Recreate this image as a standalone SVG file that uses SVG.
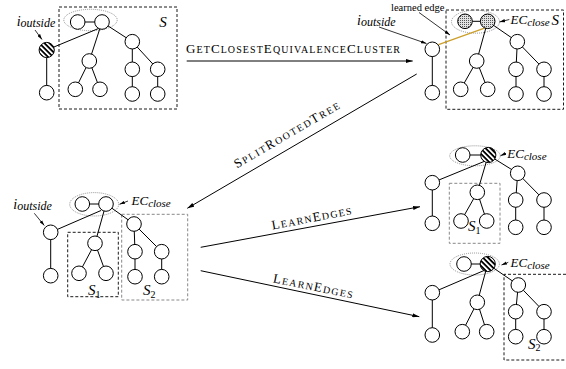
<svg xmlns="http://www.w3.org/2000/svg" width="566" height="369" viewBox="0 0 566 369">
<style>
.e{stroke:#000;stroke-width:1;fill:none}
.n{fill:#fff;stroke:#000;stroke-width:1}
.h{fill:url(#hatch);stroke:#000;stroke-width:1}
.g{fill:url(#dots);stroke:#000;stroke-width:1}
.ell{fill:none;stroke:#777;stroke-width:0.8;stroke-dasharray:1 1}
.box{fill:none;stroke:#000;stroke-width:0.9;stroke-dasharray:3 2}
.gbox{fill:none;stroke:#888;stroke-width:1;stroke-dasharray:3 2}
.it{font-family:"Liberation Serif",serif;font-style:italic;fill:#000}
.rm{font-family:"Liberation Serif",serif;fill:#000}
.sc{font-family:"Liberation Serif",serif;fill:#000}
.big{font-size:13px}
.sm{font-size:10px}
.arr{stroke:#000;stroke-width:1;fill:none;marker-end:url(#ah)}
.la{stroke:#000;stroke-width:0.8;fill:none;marker-end:url(#sah)}
</style>
<defs>
<pattern id="hatch" width="3.6" height="3.6" patternUnits="userSpaceOnUse" patternTransform="rotate(-45)"><rect width="3.6" height="3.6" fill="#fff"/><rect width="1.8" height="3.6" fill="#000"/></pattern>
<pattern id="dots" width="2" height="2" patternUnits="userSpaceOnUse"><rect width="2" height="2" fill="#e2e2e2"/><rect width="1" height="1" fill="#555"/></pattern>
<marker id="ah" viewBox="0 0 10 6" refX="10" refY="3" markerWidth="7" markerHeight="4.2" markerUnits="userSpaceOnUse" orient="auto"><path d="M0,0 L10,3 L0,6 z" fill="#000"/></marker>
<marker id="sah" viewBox="0 0 10 6" refX="10" refY="3" markerWidth="5.5" markerHeight="3.6" markerUnits="userSpaceOnUse" orient="auto"><path d="M0,0 L10,3 L0,6 z" fill="#000"/></marker>
</defs>
<rect width="566" height="369" fill="#fff"/>

<!-- Panel 1: top-left -->
<g id="tree-initial">
<rect class="box" x="59" y="7" width="118" height="102"/>
<ellipse class="ell" cx="90.5" cy="20" rx="26.7" ry="10.7"/>
<g class="e">
<line x1="77.7" y1="22" x2="102" y2="22"/>
<line x1="102" y1="22" x2="132.3" y2="41.7"/>
<line x1="102" y1="22" x2="89.3" y2="61"/>
<line x1="46.7" y1="50" x2="98.5" y2="28.5"/>
<line x1="89.3" y1="61" x2="75.3" y2="89.3"/>
<line x1="89.3" y1="61" x2="100" y2="89.3"/>
<line x1="132.3" y1="41.7" x2="132.3" y2="69.3"/>
<line x1="132.3" y1="41.7" x2="157.7" y2="69.3"/>
<line x1="132.3" y1="69.3" x2="132.3" y2="94"/>
<line x1="157.7" y1="69.3" x2="157.7" y2="94"/>
<line x1="46.7" y1="50" x2="46.7" y2="92.7"/>
</g>
<circle class="n" cx="77.7" cy="22" r="7.3"/>
<circle class="n" cx="102" cy="22" r="7.3"/>
<circle class="h" cx="46.7" cy="50" r="7.6"/>
<circle class="n" cx="46.7" cy="92.7" r="7.3"/>
<circle class="n" cx="89.3" cy="61" r="7.3"/>
<circle class="n" cx="75.3" cy="89.3" r="7.3"/>
<circle class="n" cx="100" cy="89.3" r="7.3"/>
<circle class="n" cx="132.3" cy="41.7" r="7.3"/>
<circle class="n" cx="132.3" cy="69.3" r="7.3"/>
<circle class="n" cx="157.7" cy="69.3" r="7.3"/>
<circle class="n" cx="132.3" cy="94" r="7.3"/>
<circle class="n" cx="157.7" cy="94" r="7.3"/>
<text class="it" x="16.7" y="25.5"><tspan font-size="14">i</tspan><tspan font-size="12" dy="1.5">outside</tspan></text>
<line class="la" x1="35" y1="30" x2="42" y2="39.5"/>
<text class="it" x="159.3" y="26.5" font-size="15">S</text>
</g>

<!-- Panel 2: top-right -->
<g id="tree-learned">
<rect class="box" x="446" y="10" width="117.5" height="99.3"/>
<ellipse class="ell" cx="475.5" cy="21.7" rx="24" ry="11.5"/>
<g class="e">
<line x1="465" y1="21.3" x2="487.7" y2="21.3"/>
<line x1="487.7" y1="21.3" x2="517.3" y2="41.7"/>
<line x1="487.7" y1="21.3" x2="476.7" y2="61"/>
<line x1="476.7" y1="61" x2="460.7" y2="89.3"/>
<line x1="476.7" y1="61" x2="487.7" y2="89.3"/>
<line x1="517.3" y1="41.7" x2="516" y2="69.3"/>
<line x1="517.3" y1="41.7" x2="544" y2="69.3"/>
<line x1="516" y1="69.3" x2="516" y2="94"/>
<line x1="544" y1="69.3" x2="544" y2="94"/>
<line x1="432.3" y1="49.3" x2="432.3" y2="92.7"/>
</g>
<line x1="438.5" y1="44.6" x2="484.5" y2="28.2" stroke="#cc9f2a" stroke-width="1.3"/>
<circle class="g" cx="465" cy="21.3" r="7.3"/>
<circle class="g" cx="487.7" cy="21.3" r="7.3"/>
<circle class="n" cx="432.3" cy="49.3" r="7.3"/>
<circle class="n" cx="432.3" cy="92.7" r="7.3"/>
<circle class="n" cx="476.7" cy="61" r="7.3"/>
<circle class="n" cx="460.7" cy="89.3" r="7.3"/>
<circle class="n" cx="487.7" cy="89.3" r="7.3"/>
<circle class="n" cx="517.3" cy="41.7" r="7.3"/>
<circle class="n" cx="516" cy="69.3" r="7.3"/>
<circle class="n" cx="544" cy="69.3" r="7.3"/>
<circle class="n" cx="516" cy="94" r="7.3"/>
<circle class="n" cx="544" cy="94" r="7.3"/>
<text class="it" x="357" y="24.5"><tspan font-size="14">i</tspan><tspan font-size="12" dy="1.5">outside</tspan></text>
<line class="la" x1="379" y1="27" x2="426.5" y2="43.5"/>
<text class="rm" x="391" y="10.5" font-size="10.5">learned edge</text>
<line class="la" x1="419" y1="12.5" x2="450" y2="35"/>
<text class="it" x="510.5" y="24.3"><tspan font-size="13">EC</tspan><tspan font-size="11" dy="1.8">close</tspan></text>
<line class="la" x1="509.3" y1="19.5" x2="499.5" y2="22"/>
<text class="it" x="551.5" y="24.5" font-size="15">S</text>
</g>

<!-- Panel 3: middle-left -->
<g id="tree-split">
<rect class="box" x="67.7" y="232.3" width="50.6" height="64.4"/>
<rect class="gbox" x="121.7" y="214.3" width="66" height="85.7"/>
<ellipse class="ell" cx="94.2" cy="204.3" rx="24.5" ry="11.7"/>
<g class="e">
<line x1="82.3" y1="204" x2="106" y2="204"/>
<line x1="106" y1="204" x2="134" y2="224"/>
<line x1="106" y1="204" x2="95" y2="243.3"/>
<line x1="50.7" y1="232.3" x2="101" y2="210.5"/>
<line x1="95" y1="243.3" x2="79" y2="273.3"/>
<line x1="95" y1="243.3" x2="106" y2="273.3"/>
<line x1="134" y1="224" x2="135" y2="251.7"/>
<line x1="134" y1="224" x2="161.7" y2="251.7"/>
<line x1="135" y1="251.7" x2="135" y2="276.7"/>
<line x1="161.7" y1="251.7" x2="161.7" y2="276.7"/>
<line x1="50.7" y1="232.3" x2="50.7" y2="275.7"/>
</g>
<circle class="n" cx="82.3" cy="204" r="7.3"/>
<circle class="n" cx="106" cy="204" r="7.3"/>
<circle class="n" cx="50.7" cy="232.3" r="7.3"/>
<circle class="n" cx="50.7" cy="275.7" r="7.3"/>
<circle class="n" cx="95" cy="243.3" r="7.3"/>
<circle class="n" cx="79" cy="273.3" r="7.3"/>
<circle class="n" cx="106" cy="273.3" r="7.3"/>
<circle class="n" cx="134" cy="224" r="7.3"/>
<circle class="n" cx="135" cy="251.7" r="7.3"/>
<circle class="n" cx="161.7" cy="251.7" r="7.3"/>
<circle class="n" cx="135" cy="276.7" r="7.3"/>
<circle class="n" cx="161.7" cy="276.7" r="7.3"/>
<text class="it" x="13.3" y="208.5"><tspan font-size="14">i</tspan><tspan font-size="12" dy="1.5">outside</tspan></text>
<line class="la" x1="34.3" y1="213.3" x2="44.3" y2="225.5"/>
<text class="it" x="131.5" y="205.3"><tspan font-size="13">EC</tspan><tspan font-size="11" dy="1.8">close</tspan></text>
<line class="la" x1="128" y1="201" x2="119.5" y2="204.3"/>
<text class="it" x="88" y="295" font-size="15">S<tspan class="rm" font-style="normal" font-size="10" dy="2.5">1</tspan></text>
<text class="it" x="143" y="295.3" font-size="15">S<tspan class="rm" font-style="normal" font-size="10" dy="2.5">2</tspan></text>
</g>

<!-- Panel 4: right-middle -->
<g id="tree-learn-s1">
<rect class="gbox" x="449.3" y="183.3" width="50.7" height="60"/>
<ellipse class="ell" cx="475" cy="155.8" rx="25.3" ry="10"/>
<g class="e">
<line x1="462.7" y1="155" x2="488.3" y2="155"/>
<line x1="488.3" y1="155" x2="517.7" y2="173.3"/>
<line x1="488.3" y1="155" x2="477.3" y2="192.3"/>
<line x1="432.3" y1="182.7" x2="484" y2="161.5"/>
<line x1="477.3" y1="192.3" x2="461" y2="221"/>
<line x1="477.3" y1="192.3" x2="486.7" y2="221"/>
<line x1="517.7" y1="173.3" x2="515.7" y2="200"/>
<line x1="517.7" y1="173.3" x2="544" y2="200"/>
<line x1="515.7" y1="200" x2="515.7" y2="227.3"/>
<line x1="544" y1="200" x2="544" y2="227.3"/>
<line x1="432.3" y1="182.7" x2="432.3" y2="223.3"/>
</g>
<circle class="n" cx="462.7" cy="155" r="7.3"/>
<circle class="h" cx="488.3" cy="155" r="7.6"/>
<circle class="n" cx="432.3" cy="182.7" r="7.3"/>
<circle class="n" cx="432.3" cy="223.3" r="7.3"/>
<circle class="n" cx="477.3" cy="192.3" r="7.3"/>
<circle class="n" cx="461" cy="221" r="7.3"/>
<circle class="n" cx="486.7" cy="221" r="7.3"/>
<circle class="n" cx="517.7" cy="173.3" r="7.3"/>
<circle class="n" cx="515.7" cy="200" r="7.3"/>
<circle class="n" cx="544" cy="200" r="7.3"/>
<circle class="n" cx="515.7" cy="227.3" r="7.3"/>
<circle class="n" cx="544" cy="227.3" r="7.3"/>
<text class="it" x="507.3" y="158.3"><tspan font-size="13">EC</tspan><tspan font-size="11" dy="1.8">close</tspan></text>
<line class="la" x1="506" y1="153.3" x2="500.5" y2="155.7"/>
<text class="it" x="468" y="231" font-size="15">S<tspan class="rm" font-style="normal" font-size="10" dy="2.5">1</tspan></text>
</g>

<!-- Panel 5: right-bottom -->
<g id="tree-learn-s2">
<path class="box" d="M566,274.3 H504 V360 H566"/>
<ellipse class="ell" cx="474.7" cy="264" rx="24.7" ry="11"/>
<g class="e">
<line x1="464" y1="264" x2="487.7" y2="264"/>
<line x1="487.7" y1="264" x2="518.3" y2="285"/>
<line x1="487.7" y1="264" x2="477.3" y2="302.3"/>
<line x1="432.3" y1="292.7" x2="484" y2="270.5"/>
<line x1="477.3" y1="302.3" x2="462.3" y2="331.7"/>
<line x1="477.3" y1="302.3" x2="486.7" y2="331.7"/>
<line x1="518.3" y1="285" x2="515.7" y2="311.7"/>
<line x1="518.3" y1="285" x2="544" y2="311.7"/>
<line x1="515.7" y1="311.7" x2="515.7" y2="336.7"/>
<line x1="544" y1="311.7" x2="544" y2="336.7"/>
<line x1="432.3" y1="292.7" x2="432.3" y2="335"/>
</g>
<circle class="n" cx="464" cy="264" r="7.3"/>
<circle class="h" cx="487.7" cy="264" r="7.6"/>
<circle class="n" cx="432.3" cy="292.7" r="7.3"/>
<circle class="n" cx="432.3" cy="335" r="7.3"/>
<circle class="n" cx="477.3" cy="302.3" r="7.3"/>
<circle class="n" cx="462.3" cy="331.7" r="7.3"/>
<circle class="n" cx="486.7" cy="331.7" r="7.3"/>
<circle class="n" cx="518.3" cy="285" r="7.3"/>
<circle class="n" cx="515.7" cy="311.7" r="7.3"/>
<circle class="n" cx="544" cy="311.7" r="7.3"/>
<circle class="n" cx="515.7" cy="336.7" r="7.3"/>
<circle class="n" cx="544" cy="336.7" r="7.3"/>
<text class="it" x="510.5" y="266.7"><tspan font-size="13">EC</tspan><tspan font-size="11" dy="1.8">close</tspan></text>
<line class="la" x1="508.3" y1="262.3" x2="501.5" y2="265"/>
<text class="it" x="528" y="348.5" font-size="15">S<tspan class="rm" font-style="normal" font-size="10" dy="2.5">2</tspan></text>
</g>

<!-- Connectors -->
<g id="connectors">
<line class="arr" x1="186.7" y1="61" x2="412.7" y2="61"/>
<text class="sc" x="186" y="52.7" textLength="214" lengthAdjust="spacing"><tspan class="big">G</tspan><tspan class="sm">ET</tspan><tspan class="big">C</tspan><tspan class="sm">LOSEST</tspan><tspan class="big">E</tspan><tspan class="sm">QUIVALENCE</tspan><tspan class="big">C</tspan><tspan class="sm">LUSTER</tspan></text>
<line class="arr" x1="416.7" y1="74" x2="187.3" y2="208.3"/>
<text class="sc" transform="translate(237,168.5) rotate(-30.3)" textLength="120" lengthAdjust="spacing"><tspan class="big">S</tspan><tspan class="sm">PLIT</tspan><tspan class="big">R</tspan><tspan class="sm">OOTED</tspan><tspan class="big">T</tspan><tspan class="sm">REE</tspan></text>
<line class="arr" x1="200.7" y1="247.3" x2="420" y2="206.7"/>
<text class="sc" transform="translate(272.5,229.5) rotate(-10.8)" textLength="81" lengthAdjust="spacing"><tspan class="big">L</tspan><tspan class="sm">EARN</tspan><tspan class="big">E</tspan><tspan class="sm">DGES</tspan></text>
<line class="arr" x1="200.7" y1="270.7" x2="419.3" y2="316.7"/>
<text class="sc" transform="translate(272.5,282.3) rotate(11.5)" textLength="81" lengthAdjust="spacing"><tspan class="big">L</tspan><tspan class="sm">EARN</tspan><tspan class="big">E</tspan><tspan class="sm">DGES</tspan></text>
</g>
</svg>
